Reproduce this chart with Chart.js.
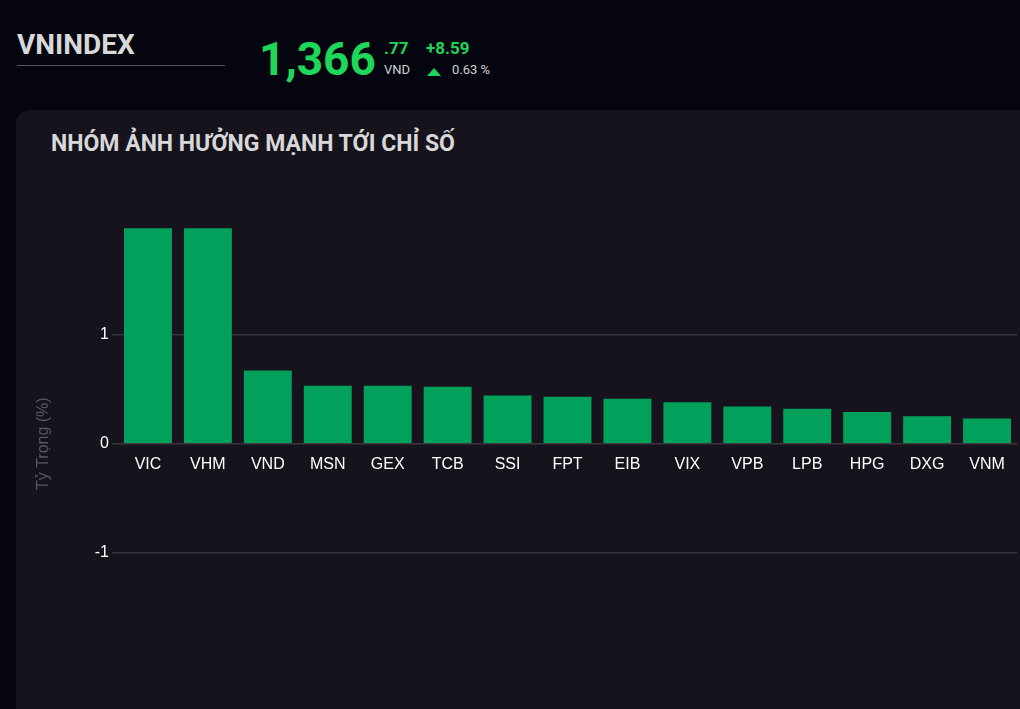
<!DOCTYPE html>
<html lang="vi">
<head>
    <meta charset="UTF-8">
    <title>VNINDEX</title>
    <script src="https://cdn.jsdelivr.net/npm/chart.js"></script>
    <style>
        body {
            margin: 0;
            width: 1020px;
            height: 709px;
            overflow: hidden;
            background: #05050f;
            font-family: Roboto, sans-serif;
            position: relative;
        }
        .index-name {
            position: absolute; left: 17px; top: 28px;
            width: 208px; padding-bottom: 4px;
            border-bottom: 1px solid #55555c;
            color: #d8d8d8; font-size: 28px; font-weight: bold;
        }
        .price {
            position: absolute; left: 259px; top: 32px;
            color: #1ed75a; font-size: 46px; font-weight: bold; line-height: 54px;
        }
        .small { position: absolute; font-size: 14px; }
        .card {
            position: absolute; left: 16px; top: 110px;
            width: 1020px; height: 620px;
            background: #16131c; border-radius: 14px;
        }
        .card-title {
            position: absolute; left: 51px; top: 130px;
            color: #d8d8d8; font-size: 23px; font-weight: bold;
        }
        .chart-box {
            position: absolute; left: 30px; top: 205px;
            width: 990px; height: 470px;
        }
    </style>
</head>
<body>
    <div class="index-name">VNINDEX</div>
    <div class="price">1,366</div>
    <div class="small" style="left:384px;top:38px;color:#1ed75a;font-size:17px;font-weight:bold;">.77</div>
    <div class="small" style="left:384px;top:62px;color:#d0d0d0;font-size:13px;">VND</div>
    <div class="small" style="left:426px;top:38px;color:#1ed75a;font-size:17px;font-weight:bold;">+8.59</div>
    <div class="small" style="left:427px;top:68px;width:0;height:0;border-left:7px solid transparent;border-right:7px solid transparent;border-bottom:8px solid #1ed75a;"></div>
    <div class="small" style="left:452px;top:62px;color:#d0d0d0;font-size:13px;">0.63 %</div>

    <div class="card"></div>
    <div class="card-title">NHÓM ẢNH HƯỞNG MẠNH TỚI CHỈ SỐ</div>
    <div class="chart-box"><canvas id="chart"></canvas></div>

    <script>
        const tickers = ['VIC', 'VHM', 'VND', 'MSN', 'GEX', 'TCB', 'SSI', 'FPT', 'EIB', 'VIX', 'VPB', 'LPB', 'HPG', 'DXG', 'VNM'];
        const weights = [1.97, 1.97, 0.67, 0.53, 0.53, 0.52, 0.44, 0.43, 0.41, 0.38, 0.34, 0.32, 0.29, 0.25, 0.23];
        const yTicks = [-1, 0, 1];

        new Chart(document.getElementById('chart'), {
            type: 'bar',
            data: {
                labels: tickers,
                datasets: [{
                    label: 'Tỷ Trọng (%)',
                    data: weights,
                    backgroundColor: '#01a05b',
                    categoryPercentage: 0.8,
                    barPercentage: 1.0
                }]
            },
            options: {
                responsive: true,
                maintainAspectRatio: false,
                animation: false,
                layout: { padding: { top: 20, right: 3, bottom: 0 } },
                plugins: { legend: { display: false }, tooltip: { enabled: false } },
                scales: {
                    x: {
                        position: { y: 0 },
                        grid: { display: false },
                        border: { display: false },
                        ticks: { color: '#ffffff', font: { family: 'Liberation Sans', size: 16 } }
                    },
                    y: {
                        min: -2,
                        max: 2,
                        afterFit: (s) => { s.width = 88; },
                        afterBuildTicks: (s) => { s.ticks = yTicks.map(v => ({ value: v })); },
                        grid: { color: '#39373f', lineWidth: 1.5, drawTicks: true, tickLength: 6 },
                        border: { display: false },
                        ticks: { color: '#ffffff', font: { family: 'Liberation Sans', size: 16 } },
                        title: { display: true, text: 'Tỷ Trọng (%)', color: '#5a5860', font: { family: 'Liberation Sans', size: 16 } }
                    }
                }
            }
        });
    </script>
</body>
</html>
